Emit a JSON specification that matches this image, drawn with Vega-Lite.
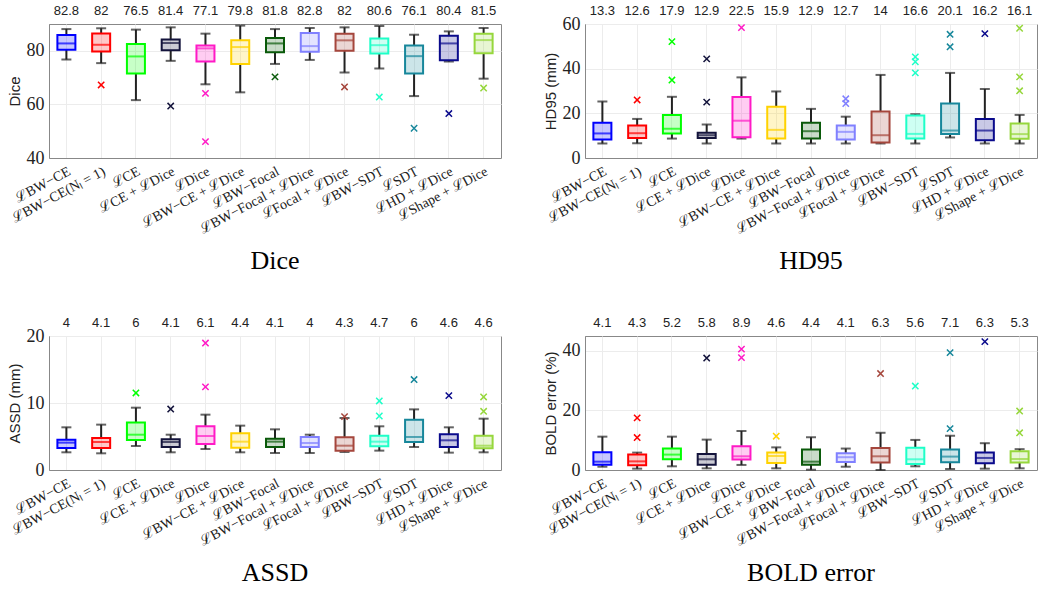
{
  "$schema": "https://vega.github.io/schema/vega-lite/v6.json",
  "background": "white",
  "padding": {"left": 6, "top": 4, "right": 5, "bottom": 5},
  "datasets": {
    "stats": [
      {"metric": "Dice", "method": "ℒBW−CE", "lo": 76.75, "q1": 80.4, "med": 82.75, "q3": 85.9, "hi": 88.1, "mean": 82.8},
      {"metric": "Dice", "method": "ℒBW−CE(Nₗ = 1)", "lo": 75.4, "q1": 79.75, "med": 82.25, "q3": 86.5, "hi": 88.4, "mean": 82},
      {"metric": "Dice", "method": "ℒCE", "lo": 61.6, "q1": 71.5, "med": 77.9, "q3": 82.5, "hi": 87.9, "mean": 76.5},
      {"metric": "Dice", "method": "ℒCE + ℒDice", "lo": 76.25, "q1": 80.25, "med": 82.9, "q3": 84.25, "hi": 88.75, "mean": 81.4},
      {"metric": "Dice", "method": "ℒDice", "lo": 67.5, "q1": 76, "med": 80.9, "q3": 82, "hi": 86.4, "mean": 77.1},
      {"metric": "Dice", "method": "ℒBW−CE + ℒDice", "lo": 64.5, "q1": 75.1, "med": 81.4, "q3": 83.9, "hi": 89.4, "mean": 79.8},
      {"metric": "Dice", "method": "ℒBW−Focal", "lo": 75.1, "q1": 79.5, "med": 82.75, "q3": 84.75, "hi": 88.1, "mean": 81.8},
      {"metric": "Dice", "method": "ℒBW−Focal + ℒDice", "lo": 76.6, "q1": 79.6, "med": 81.75, "q3": 86.6, "hi": 88.5, "mean": 82.8},
      {"metric": "Dice", "method": "ℒFocal + ℒDice", "lo": 71.9, "q1": 80, "med": 83.9, "q3": 86.4, "hi": 88.75, "mean": 82},
      {"metric": "Dice", "method": "ℒBW−SDT", "lo": 73.4, "q1": 79, "med": 82.1, "q3": 84.6, "hi": 89.25, "mean": 80.6},
      {"metric": "Dice", "method": "ℒSDT", "lo": 63.1, "q1": 71.5, "med": 78, "q3": 82, "hi": 86, "mean": 76.1},
      {"metric": "Dice", "method": "ℒHD + ℒDice", "lo": 76, "q1": 76.5, "med": 82.75, "q3": 85.6, "hi": 87.25, "mean": 80.4},
      {"metric": "Dice", "method": "ℒShape + ℒDice", "lo": 69.6, "q1": 79.1, "med": 84, "q3": 86.4, "hi": 88.5, "mean": 81.5},

      {"metric": "HD95", "method": "ℒBW−CE", "lo": 6.5, "q1": 8.3, "med": 11, "q3": 15.8, "hi": 25.3, "mean": 13.3},
      {"metric": "HD95", "method": "ℒBW−CE(Nₗ = 1)", "lo": 6.6, "q1": 9, "med": 11.1, "q3": 14.5, "hi": 17.5, "mean": 12.6},
      {"metric": "HD95", "method": "ℒCE", "lo": 8.7, "q1": 11, "med": 13.1, "q3": 19.3, "hi": 27.4, "mean": 17.9},
      {"metric": "HD95", "method": "ℒCE + ℒDice", "lo": 6.5, "q1": 9, "med": 10.2, "q3": 11.3, "hi": 15, "mean": 12.9},
      {"metric": "HD95", "method": "ℒDice", "lo": 8.7, "q1": 9.3, "med": 16.7, "q3": 27.3, "hi": 36.1, "mean": 22.5},
      {"metric": "HD95", "method": "ℒBW−CE + ℒDice", "lo": 6.5, "q1": 8.7, "med": 12.6, "q3": 22.9, "hi": 29.8, "mean": 15.9},
      {"metric": "HD95", "method": "ℒBW−Focal", "lo": 6.5, "q1": 8.7, "med": 12, "q3": 15.8, "hi": 22, "mean": 12.9},
      {"metric": "HD95", "method": "ℒBW−Focal + ℒDice", "lo": 6.5, "q1": 8.3, "med": 11.7, "q3": 14.5, "hi": 18.5, "mean": 12.7},
      {"metric": "HD95", "method": "ℒFocal + ℒDice", "lo": 6.5, "q1": 6.9, "med": 10.2, "q3": 20.8, "hi": 37.2, "mean": 14},
      {"metric": "HD95", "method": "ℒBW−SDT", "lo": 6.5, "q1": 8.7, "med": 10.8, "q3": 19, "hi": 19.6, "mean": 16.6},
      {"metric": "HD95", "method": "ℒSDT", "lo": 9.2, "q1": 10.7, "med": 12.3, "q3": 24.4, "hi": 38.1, "mean": 20.1},
      {"metric": "HD95", "method": "ℒHD + ℒDice", "lo": 6.5, "q1": 8, "med": 12.3, "q3": 17.5, "hi": 30.9, "mean": 16.2},
      {"metric": "HD95", "method": "ℒShape + ℒDice", "lo": 6.5, "q1": 8.6, "med": 10.7, "q3": 15.4, "hi": 19.3, "mean": 16.1},

      {"metric": "ASSD", "method": "ℒBW−CE", "lo": 2.64, "q1": 3.28, "med": 4.08, "q3": 4.53, "hi": 6.37, "mean": 4},
      {"metric": "ASSD", "method": "ℒBW−CE(Nₗ = 1)", "lo": 2.49, "q1": 3.28, "med": 4.18, "q3": 4.78, "hi": 6.77, "mean": 4.1},
      {"metric": "ASSD", "method": "ℒCE", "lo": 3.58, "q1": 4.48, "med": 5.27, "q3": 7.1, "hi": 9.3, "mean": 6},
      {"metric": "ASSD", "method": "ℒCE + ℒDice", "lo": 2.64, "q1": 3.43, "med": 4.18, "q3": 4.58, "hi": 5.27, "mean": 4.1},
      {"metric": "ASSD", "method": "ℒDice", "lo": 3.13, "q1": 3.88, "med": 5.07, "q3": 6.52, "hi": 8.26, "mean": 6.1},
      {"metric": "ASSD", "method": "ℒBW−CE + ℒDice", "lo": 2.64, "q1": 3.33, "med": 4.23, "q3": 5.47, "hi": 6.62, "mean": 4.4},
      {"metric": "ASSD", "method": "ℒBW−Focal", "lo": 2.54, "q1": 3.43, "med": 4.23, "q3": 4.68, "hi": 6.07, "mean": 4.1},
      {"metric": "ASSD", "method": "ℒBW−Focal + ℒDice", "lo": 2.54, "q1": 3.43, "med": 4.03, "q3": 4.93, "hi": 5.27, "mean": 4},
      {"metric": "ASSD", "method": "ℒFocal + ℒDice", "lo": 2.69, "q1": 2.89, "med": 3.63, "q3": 4.88, "hi": 7.76, "mean": 4.3},
      {"metric": "ASSD", "method": "ℒBW−SDT", "lo": 2.89, "q1": 3.53, "med": 4.23, "q3": 5.12, "hi": 6.52, "mean": 4.7},
      {"metric": "ASSD", "method": "ℒSDT", "lo": 3.43, "q1": 4.18, "med": 4.93, "q3": 7.51, "hi": 9.05, "mean": 6},
      {"metric": "ASSD", "method": "ℒHD + ℒDice", "lo": 2.59, "q1": 3.43, "med": 4.43, "q3": 5.32, "hi": 6.37, "mean": 4.6},
      {"metric": "ASSD", "method": "ℒShape + ℒDice", "lo": 2.64, "q1": 3.23, "med": 3.63, "q3": 5.12, "hi": 7.66, "mean": 4.6},

      {"metric": "BOLD", "method": "ℒBW−CE", "lo": 1.1, "q1": 1.8, "med": 2.8, "q3": 5.96, "hi": 11.2, "mean": 4.1},
      {"metric": "BOLD", "method": "ℒBW−CE(Nₗ = 1)", "lo": 0.45, "q1": 1.57, "med": 2.9, "q3": 5.17, "hi": 5.84, "mean": 4.3},
      {"metric": "BOLD", "method": "ℒCE", "lo": 1.24, "q1": 3.6, "med": 5.17, "q3": 7.2, "hi": 11.2, "mean": 5.2},
      {"metric": "BOLD", "method": "ℒCE + ℒDice", "lo": 0.56, "q1": 1.8, "med": 3.6, "q3": 5.4, "hi": 10.2, "mean": 5.8},
      {"metric": "BOLD", "method": "ℒDice", "lo": 1.7, "q1": 3.5, "med": 4.6, "q3": 8, "hi": 13.1, "mean": 8.9},
      {"metric": "BOLD", "method": "ℒBW−CE + ℒDice", "lo": 0.56, "q1": 2.36, "med": 4.7, "q3": 5.84, "hi": 7.6, "mean": 4.6},
      {"metric": "BOLD", "method": "ℒBW−Focal", "lo": 0.1, "q1": 1.8, "med": 2.8, "q3": 6.85, "hi": 11, "mean": 4.4},
      {"metric": "BOLD", "method": "ℒBW−Focal + ℒDice", "lo": 1.1, "q1": 2.7, "med": 4.3, "q3": 5.6, "hi": 7.2, "mean": 4.1},
      {"metric": "BOLD", "method": "ℒFocal + ℒDice", "lo": 0, "q1": 2.5, "med": 4.6, "q3": 7.4, "hi": 12.5, "mean": 6.3},
      {"metric": "BOLD", "method": "ℒBW−SDT", "lo": 1.24, "q1": 2, "med": 3.6, "q3": 7.5, "hi": 10.1, "mean": 5.6},
      {"metric": "BOLD", "method": "ℒSDT", "lo": 0.34, "q1": 2.6, "med": 4.5, "q3": 6.85, "hi": 11.5, "mean": 7.1},
      {"metric": "BOLD", "method": "ℒHD + ℒDice", "lo": 0.45, "q1": 2.25, "med": 4.05, "q3": 5.84, "hi": 9, "mean": 6.3},
      {"metric": "BOLD", "method": "ℒShape + ℒDice", "lo": 0.56, "q1": 2.5, "med": 3.7, "q3": 6.3, "hi": 7, "mean": 5.3}
    ],
    "outliers": [
      {"metric": "Dice", "method": "ℒBW−CE(Nₗ = 1)", "value": 67.25},
      {"metric": "Dice", "method": "ℒCE + ℒDice", "value": 59.4},
      {"metric": "Dice", "method": "ℒDice", "value": 64.1},
      {"metric": "Dice", "method": "ℒDice", "value": 46.1},
      {"metric": "Dice", "method": "ℒBW−Focal", "value": 70.25},
      {"metric": "Dice", "method": "ℒFocal + ℒDice", "value": 66.5},
      {"metric": "Dice", "method": "ℒBW−SDT", "value": 62.75},
      {"metric": "Dice", "method": "ℒSDT", "value": 51.1},
      {"metric": "Dice", "method": "ℒHD + ℒDice", "value": 56.6},
      {"metric": "Dice", "method": "ℒShape + ℒDice", "value": 66.1},

      {"metric": "HD95", "method": "ℒBW−CE(Nₗ = 1)", "value": 26},
      {"metric": "HD95", "method": "ℒCE", "value": 34.9},
      {"metric": "HD95", "method": "ℒCE", "value": 52.1},
      {"metric": "HD95", "method": "ℒCE + ℒDice", "value": 25},
      {"metric": "HD95", "method": "ℒCE + ℒDice", "value": 44.4},
      {"metric": "HD95", "method": "ℒDice", "value": 58.4},
      {"metric": "HD95", "method": "ℒBW−Focal + ℒDice", "value": 24.4},
      {"metric": "HD95", "method": "ℒBW−Focal + ℒDice", "value": 26.5},
      {"metric": "HD95", "method": "ℒBW−SDT", "value": 38.1},
      {"metric": "HD95", "method": "ℒBW−SDT", "value": 43.1},
      {"metric": "HD95", "method": "ℒBW−SDT", "value": 45.3},
      {"metric": "HD95", "method": "ℒSDT", "value": 49.8},
      {"metric": "HD95", "method": "ℒSDT", "value": 55.4},
      {"metric": "HD95", "method": "ℒHD + ℒDice", "value": 55.7},
      {"metric": "HD95", "method": "ℒShape + ℒDice", "value": 30.1},
      {"metric": "HD95", "method": "ℒShape + ℒDice", "value": 36.3},
      {"metric": "HD95", "method": "ℒShape + ℒDice", "value": 58.1},

      {"metric": "ASSD", "method": "ℒCE", "value": 11.5},
      {"metric": "ASSD", "method": "ℒCE + ℒDice", "value": 9.1},
      {"metric": "ASSD", "method": "ℒDice", "value": 12.4},
      {"metric": "ASSD", "method": "ℒDice", "value": 18.95},
      {"metric": "ASSD", "method": "ℒFocal + ℒDice", "value": 7.96},
      {"metric": "ASSD", "method": "ℒBW−SDT", "value": 8.06},
      {"metric": "ASSD", "method": "ℒBW−SDT", "value": 10.3},
      {"metric": "ASSD", "method": "ℒSDT", "value": 13.5},
      {"metric": "ASSD", "method": "ℒHD + ℒDice", "value": 11.1},
      {"metric": "ASSD", "method": "ℒShape + ℒDice", "value": 8.76},
      {"metric": "ASSD", "method": "ℒShape + ℒDice", "value": 10.9},

      {"metric": "BOLD", "method": "ℒBW−CE(Nₗ = 1)", "value": 10.9},
      {"metric": "BOLD", "method": "ℒBW−CE(Nₗ = 1)", "value": 17.5},
      {"metric": "BOLD", "method": "ℒCE + ℒDice", "value": 37.6},
      {"metric": "BOLD", "method": "ℒDice", "value": 37.75},
      {"metric": "BOLD", "method": "ℒDice", "value": 40.6},
      {"metric": "BOLD", "method": "ℒBW−CE + ℒDice", "value": 11.35},
      {"metric": "BOLD", "method": "ℒFocal + ℒDice", "value": 32.4},
      {"metric": "BOLD", "method": "ℒBW−SDT", "value": 28.2},
      {"metric": "BOLD", "method": "ℒSDT", "value": 13.9},
      {"metric": "BOLD", "method": "ℒSDT", "value": 39.4},
      {"metric": "BOLD", "method": "ℒHD + ℒDice", "value": 43.1},
      {"metric": "BOLD", "method": "ℒShape + ℒDice", "value": 12.5},
      {"metric": "BOLD", "method": "ℒShape + ℒDice", "value": 19.8}
    ]
  },
  "columns": 2,
  "spacing": {"column": 40, "row": 41},
  "concat": [
    {
      "width": 452, "height": 134,
      "title": {"text": "Dice", "orient": "bottom", "font": "Liberation Serif", "fontSize": 26, "fontWeight": "normal", "color": "#000", "offset": 12},
      "encoding": {"x": {"field": "method", "type": "nominal", "title": null,
        "scale": {"domain": ["ℒBW−CE", "ℒBW−CE(Nₗ = 1)", "ℒCE", "ℒCE + ℒDice", "ℒDice", "ℒBW−CE + ℒDice", "ℒBW−Focal", "ℒBW−Focal + ℒDice", "ℒFocal + ℒDice", "ℒBW−SDT", "ℒSDT", "ℒHD + ℒDice", "ℒShape + ℒDice"]},
        "axis": {"labelAngle": -28, "labelAlign": "right", "labelBaseline": "top", "labelFont": "Liberation Serif", "labelFontSize": 14, "labelColor": "#222", "ticks": false, "labelPadding": 6, "grid": true, "gridColor": "#ececec", "domainColor": "#888"}},
        "color": {"field": "method", "type": "nominal", "legend": null, "scale": {"domain": ["ℒBW−CE", "ℒBW−CE(Nₗ = 1)", "ℒCE", "ℒCE + ℒDice", "ℒDice", "ℒBW−CE + ℒDice", "ℒBW−Focal", "ℒBW−Focal + ℒDice", "ℒFocal + ℒDice", "ℒBW−SDT", "ℒSDT", "ℒHD + ℒDice", "ℒShape + ℒDice"], "range": ["#0000ff", "#ff0000", "#00ff00", "#14143c", "#ff1ac6", "#ffd200", "#0a5a0a", "#8080ff", "#a5463c", "#1effc8", "#17879b", "#0a0a8c", "#96d73c"]}}},
      "layer": [
        {"data": {"name": "stats"}, "transform": [{"filter": "datum.metric === 'Dice'"}],
         "layer": [
          {"mark": {"type": "rule", "strokeWidth": 2}, "encoding": {"color": {"value": "#222"}, "y": {"field": "lo", "type": "quantitative", "scale": {"domain": [40, 90], "nice": false, "zero": false}, "axis": {"values": [40, 60, 80], "title": "Dice", "titleFont": "Liberation Sans", "titleFontSize": 15, "titleFontWeight": "normal", "titleColor": "#222", "labelFont": "Liberation Serif", "labelFontSize": 18, "labelColor": "#222", "ticks": false, "labelPadding": 5, "grid": true, "gridColor": "#ececec", "domainColor": "#888"}}, "y2": {"field": "q1"}}},
          {"mark": {"type": "rule", "strokeWidth": 2}, "encoding": {"color": {"value": "#222"}, "y": {"field": "q3", "type": "quantitative"}, "y2": {"field": "hi"}}},
          {"mark": {"type": "tick", "thickness": 2, "size": 10}, "encoding": {"color": {"value": "#222"}, "y": {"field": "lo", "type": "quantitative"}}},
          {"mark": {"type": "tick", "thickness": 2, "size": 10}, "encoding": {"color": {"value": "#222"}, "y": {"field": "hi", "type": "quantitative"}}},
          {"mark": {"type": "bar", "size": 18, "strokeWidth": 2, "fillOpacity": 0.22}, "encoding": {"y": {"field": "q1", "type": "quantitative"}, "y2": {"field": "q3"}, "stroke": {"field": "method", "type": "nominal", "legend": null, "scale": {"domain": ["ℒBW−CE", "ℒBW−CE(Nₗ = 1)", "ℒCE", "ℒCE + ℒDice", "ℒDice", "ℒBW−CE + ℒDice", "ℒBW−Focal", "ℒBW−Focal + ℒDice", "ℒFocal + ℒDice", "ℒBW−SDT", "ℒSDT", "ℒHD + ℒDice", "ℒShape + ℒDice"], "range": ["#0000ff", "#ff0000", "#00ff00", "#14143c", "#ff1ac6", "#ffd200", "#0a5a0a", "#8080ff", "#a5463c", "#1effc8", "#17879b", "#0a0a8c", "#96d73c"]}}}},
          {"mark": {"type": "tick", "thickness": 2, "size": 18}, "encoding": {"y": {"field": "med", "type": "quantitative"}}},
          {"mark": {"type": "text", "font": "Liberation Sans", "fontSize": 13, "baseline": "bottom", "dy": -6}, "encoding": {"color": {"value": "#222"}, "y": {"datum": 90, "type": "quantitative"}, "text": {"field": "mean", "type": "quantitative"}}}
         ]},
        {"data": {"name": "outliers"}, "transform": [{"filter": "datum.metric === 'Dice'"}],
         "mark": {"type": "point", "shape": "M-1,-1L1,1M-1,1L1,-1", "filled": false, "size": 40, "strokeWidth": 1.5, "opacity": 1},
         "encoding": {"y": {"field": "value", "type": "quantitative"}}}
      ]
    },
    {
      "width": 452, "height": 134,
      "title": {"text": "HD95", "orient": "bottom", "font": "Liberation Serif", "fontSize": 26, "fontWeight": "normal", "color": "#000", "offset": 12},
      "encoding": {"x": {"field": "method", "type": "nominal", "title": null,
        "scale": {"domain": ["ℒBW−CE", "ℒBW−CE(Nₗ = 1)", "ℒCE", "ℒCE + ℒDice", "ℒDice", "ℒBW−CE + ℒDice", "ℒBW−Focal", "ℒBW−Focal + ℒDice", "ℒFocal + ℒDice", "ℒBW−SDT", "ℒSDT", "ℒHD + ℒDice", "ℒShape + ℒDice"]},
        "axis": {"labelAngle": -28, "labelAlign": "right", "labelBaseline": "top", "labelFont": "Liberation Serif", "labelFontSize": 14, "labelColor": "#222", "ticks": false, "labelPadding": 6, "grid": true, "gridColor": "#ececec", "domainColor": "#888"}},
        "color": {"field": "method", "type": "nominal", "legend": null, "scale": {"domain": ["ℒBW−CE", "ℒBW−CE(Nₗ = 1)", "ℒCE", "ℒCE + ℒDice", "ℒDice", "ℒBW−CE + ℒDice", "ℒBW−Focal", "ℒBW−Focal + ℒDice", "ℒFocal + ℒDice", "ℒBW−SDT", "ℒSDT", "ℒHD + ℒDice", "ℒShape + ℒDice"], "range": ["#0000ff", "#ff0000", "#00ff00", "#14143c", "#ff1ac6", "#ffd200", "#0a5a0a", "#8080ff", "#a5463c", "#1effc8", "#17879b", "#0a0a8c", "#96d73c"]}}},
      "layer": [
        {"data": {"name": "stats"}, "transform": [{"filter": "datum.metric === 'HD95'"}],
         "layer": [
          {"mark": {"type": "rule", "strokeWidth": 2}, "encoding": {"color": {"value": "#222"}, "y": {"field": "lo", "type": "quantitative", "scale": {"domain": [0, 60], "nice": false}, "axis": {"values": [0, 20, 40, 60], "title": "HD95 (mm)", "titleFont": "Liberation Sans", "titleFontSize": 15, "titleFontWeight": "normal", "titleColor": "#222", "labelFont": "Liberation Serif", "labelFontSize": 18, "labelColor": "#222", "ticks": false, "labelPadding": 5, "grid": true, "gridColor": "#ececec", "domainColor": "#888"}}, "y2": {"field": "q1"}}},
          {"mark": {"type": "rule", "strokeWidth": 2}, "encoding": {"color": {"value": "#222"}, "y": {"field": "q3", "type": "quantitative"}, "y2": {"field": "hi"}}},
          {"mark": {"type": "tick", "thickness": 2, "size": 10}, "encoding": {"color": {"value": "#222"}, "y": {"field": "lo", "type": "quantitative"}}},
          {"mark": {"type": "tick", "thickness": 2, "size": 10}, "encoding": {"color": {"value": "#222"}, "y": {"field": "hi", "type": "quantitative"}}},
          {"mark": {"type": "bar", "size": 18, "strokeWidth": 2, "fillOpacity": 0.22}, "encoding": {"y": {"field": "q1", "type": "quantitative"}, "y2": {"field": "q3"}, "stroke": {"field": "method", "type": "nominal", "legend": null, "scale": {"domain": ["ℒBW−CE", "ℒBW−CE(Nₗ = 1)", "ℒCE", "ℒCE + ℒDice", "ℒDice", "ℒBW−CE + ℒDice", "ℒBW−Focal", "ℒBW−Focal + ℒDice", "ℒFocal + ℒDice", "ℒBW−SDT", "ℒSDT", "ℒHD + ℒDice", "ℒShape + ℒDice"], "range": ["#0000ff", "#ff0000", "#00ff00", "#14143c", "#ff1ac6", "#ffd200", "#0a5a0a", "#8080ff", "#a5463c", "#1effc8", "#17879b", "#0a0a8c", "#96d73c"]}}}},
          {"mark": {"type": "tick", "thickness": 2, "size": 18}, "encoding": {"y": {"field": "med", "type": "quantitative"}}},
          {"mark": {"type": "text", "font": "Liberation Sans", "fontSize": 13, "baseline": "bottom", "dy": -6}, "encoding": {"color": {"value": "#222"}, "y": {"datum": 60, "type": "quantitative"}, "text": {"field": "mean", "type": "quantitative"}}}
         ]},
        {"data": {"name": "outliers"}, "transform": [{"filter": "datum.metric === 'HD95'"}],
         "mark": {"type": "point", "shape": "M-1,-1L1,1M-1,1L1,-1", "filled": false, "size": 40, "strokeWidth": 1.5, "opacity": 1},
         "encoding": {"y": {"field": "value", "type": "quantitative"}}}
      ]
    },
    {
      "width": 452, "height": 134,
      "title": {"text": "ASSD", "orient": "bottom", "font": "Liberation Serif", "fontSize": 26, "fontWeight": "normal", "color": "#000", "offset": 12},
      "encoding": {"x": {"field": "method", "type": "nominal", "title": null,
        "scale": {"domain": ["ℒBW−CE", "ℒBW−CE(Nₗ = 1)", "ℒCE", "ℒCE + ℒDice", "ℒDice", "ℒBW−CE + ℒDice", "ℒBW−Focal", "ℒBW−Focal + ℒDice", "ℒFocal + ℒDice", "ℒBW−SDT", "ℒSDT", "ℒHD + ℒDice", "ℒShape + ℒDice"]},
        "axis": {"labelAngle": -28, "labelAlign": "right", "labelBaseline": "top", "labelFont": "Liberation Serif", "labelFontSize": 14, "labelColor": "#222", "ticks": false, "labelPadding": 6, "grid": true, "gridColor": "#ececec", "domainColor": "#888"}},
        "color": {"field": "method", "type": "nominal", "legend": null, "scale": {"domain": ["ℒBW−CE", "ℒBW−CE(Nₗ = 1)", "ℒCE", "ℒCE + ℒDice", "ℒDice", "ℒBW−CE + ℒDice", "ℒBW−Focal", "ℒBW−Focal + ℒDice", "ℒFocal + ℒDice", "ℒBW−SDT", "ℒSDT", "ℒHD + ℒDice", "ℒShape + ℒDice"], "range": ["#0000ff", "#ff0000", "#00ff00", "#14143c", "#ff1ac6", "#ffd200", "#0a5a0a", "#8080ff", "#a5463c", "#1effc8", "#17879b", "#0a0a8c", "#96d73c"]}}},
      "layer": [
        {"data": {"name": "stats"}, "transform": [{"filter": "datum.metric === 'ASSD'"}],
         "layer": [
          {"mark": {"type": "rule", "strokeWidth": 2}, "encoding": {"color": {"value": "#222"}, "y": {"field": "lo", "type": "quantitative", "scale": {"domain": [0, 20], "nice": false}, "axis": {"values": [0, 10, 20], "title": "ASSD (mm)", "titleFont": "Liberation Sans", "titleFontSize": 15, "titleFontWeight": "normal", "titleColor": "#222", "labelFont": "Liberation Serif", "labelFontSize": 18, "labelColor": "#222", "ticks": false, "labelPadding": 5, "grid": true, "gridColor": "#ececec", "domainColor": "#888"}}, "y2": {"field": "q1"}}},
          {"mark": {"type": "rule", "strokeWidth": 2}, "encoding": {"color": {"value": "#222"}, "y": {"field": "q3", "type": "quantitative"}, "y2": {"field": "hi"}}},
          {"mark": {"type": "tick", "thickness": 2, "size": 10}, "encoding": {"color": {"value": "#222"}, "y": {"field": "lo", "type": "quantitative"}}},
          {"mark": {"type": "tick", "thickness": 2, "size": 10}, "encoding": {"color": {"value": "#222"}, "y": {"field": "hi", "type": "quantitative"}}},
          {"mark": {"type": "bar", "size": 18, "strokeWidth": 2, "fillOpacity": 0.22}, "encoding": {"y": {"field": "q1", "type": "quantitative"}, "y2": {"field": "q3"}, "stroke": {"field": "method", "type": "nominal", "legend": null, "scale": {"domain": ["ℒBW−CE", "ℒBW−CE(Nₗ = 1)", "ℒCE", "ℒCE + ℒDice", "ℒDice", "ℒBW−CE + ℒDice", "ℒBW−Focal", "ℒBW−Focal + ℒDice", "ℒFocal + ℒDice", "ℒBW−SDT", "ℒSDT", "ℒHD + ℒDice", "ℒShape + ℒDice"], "range": ["#0000ff", "#ff0000", "#00ff00", "#14143c", "#ff1ac6", "#ffd200", "#0a5a0a", "#8080ff", "#a5463c", "#1effc8", "#17879b", "#0a0a8c", "#96d73c"]}}}},
          {"mark": {"type": "tick", "thickness": 2, "size": 18}, "encoding": {"y": {"field": "med", "type": "quantitative"}}},
          {"mark": {"type": "text", "font": "Liberation Sans", "fontSize": 13, "baseline": "bottom", "dy": -6}, "encoding": {"color": {"value": "#222"}, "y": {"datum": 20, "type": "quantitative"}, "text": {"field": "mean", "type": "quantitative"}}}
         ]},
        {"data": {"name": "outliers"}, "transform": [{"filter": "datum.metric === 'ASSD'"}],
         "mark": {"type": "point", "shape": "M-1,-1L1,1M-1,1L1,-1", "filled": false, "size": 40, "strokeWidth": 1.5, "opacity": 1},
         "encoding": {"y": {"field": "value", "type": "quantitative"}}}
      ]
    },
    {
      "width": 452, "height": 134,
      "title": {"text": "BOLD error", "orient": "bottom", "font": "Liberation Serif", "fontSize": 26, "fontWeight": "normal", "color": "#000", "offset": 12},
      "encoding": {"x": {"field": "method", "type": "nominal", "title": null,
        "scale": {"domain": ["ℒBW−CE", "ℒBW−CE(Nₗ = 1)", "ℒCE", "ℒCE + ℒDice", "ℒDice", "ℒBW−CE + ℒDice", "ℒBW−Focal", "ℒBW−Focal + ℒDice", "ℒFocal + ℒDice", "ℒBW−SDT", "ℒSDT", "ℒHD + ℒDice", "ℒShape + ℒDice"]},
        "axis": {"labelAngle": -28, "labelAlign": "right", "labelBaseline": "top", "labelFont": "Liberation Serif", "labelFontSize": 14, "labelColor": "#222", "ticks": false, "labelPadding": 6, "grid": true, "gridColor": "#ececec", "domainColor": "#888"}},
        "color": {"field": "method", "type": "nominal", "legend": null, "scale": {"domain": ["ℒBW−CE", "ℒBW−CE(Nₗ = 1)", "ℒCE", "ℒCE + ℒDice", "ℒDice", "ℒBW−CE + ℒDice", "ℒBW−Focal", "ℒBW−Focal + ℒDice", "ℒFocal + ℒDice", "ℒBW−SDT", "ℒSDT", "ℒHD + ℒDice", "ℒShape + ℒDice"], "range": ["#0000ff", "#ff0000", "#00ff00", "#14143c", "#ff1ac6", "#ffd200", "#0a5a0a", "#8080ff", "#a5463c", "#1effc8", "#17879b", "#0a0a8c", "#96d73c"]}}},
      "layer": [
        {"data": {"name": "stats"}, "transform": [{"filter": "datum.metric === 'BOLD'"}],
         "layer": [
          {"mark": {"type": "rule", "strokeWidth": 2}, "encoding": {"color": {"value": "#222"}, "y": {"field": "lo", "type": "quantitative", "scale": {"domain": [0, 45], "nice": false}, "axis": {"values": [0, 20, 40], "title": "BOLD error (%)", "titleFont": "Liberation Sans", "titleFontSize": 15, "titleFontWeight": "normal", "titleColor": "#222", "labelFont": "Liberation Serif", "labelFontSize": 18, "labelColor": "#222", "ticks": false, "labelPadding": 5, "grid": true, "gridColor": "#ececec", "domainColor": "#888"}}, "y2": {"field": "q1"}}},
          {"mark": {"type": "rule", "strokeWidth": 2}, "encoding": {"color": {"value": "#222"}, "y": {"field": "q3", "type": "quantitative"}, "y2": {"field": "hi"}}},
          {"mark": {"type": "tick", "thickness": 2, "size": 10}, "encoding": {"color": {"value": "#222"}, "y": {"field": "lo", "type": "quantitative"}}},
          {"mark": {"type": "tick", "thickness": 2, "size": 10}, "encoding": {"color": {"value": "#222"}, "y": {"field": "hi", "type": "quantitative"}}},
          {"mark": {"type": "bar", "size": 18, "strokeWidth": 2, "fillOpacity": 0.22}, "encoding": {"y": {"field": "q1", "type": "quantitative"}, "y2": {"field": "q3"}, "stroke": {"field": "method", "type": "nominal", "legend": null, "scale": {"domain": ["ℒBW−CE", "ℒBW−CE(Nₗ = 1)", "ℒCE", "ℒCE + ℒDice", "ℒDice", "ℒBW−CE + ℒDice", "ℒBW−Focal", "ℒBW−Focal + ℒDice", "ℒFocal + ℒDice", "ℒBW−SDT", "ℒSDT", "ℒHD + ℒDice", "ℒShape + ℒDice"], "range": ["#0000ff", "#ff0000", "#00ff00", "#14143c", "#ff1ac6", "#ffd200", "#0a5a0a", "#8080ff", "#a5463c", "#1effc8", "#17879b", "#0a0a8c", "#96d73c"]}}}},
          {"mark": {"type": "tick", "thickness": 2, "size": 18}, "encoding": {"y": {"field": "med", "type": "quantitative"}}},
          {"mark": {"type": "text", "font": "Liberation Sans", "fontSize": 13, "baseline": "bottom", "dy": -6}, "encoding": {"color": {"value": "#222"}, "y": {"datum": 45, "type": "quantitative"}, "text": {"field": "mean", "type": "quantitative"}}}
         ]},
        {"data": {"name": "outliers"}, "transform": [{"filter": "datum.metric === 'BOLD'"}],
         "mark": {"type": "point", "shape": "M-1,-1L1,1M-1,1L1,-1", "filled": false, "size": 40, "strokeWidth": 1.5, "opacity": 1},
         "encoding": {"y": {"field": "value", "type": "quantitative"}}}
      ]
    }
  ],
  "resolve": {"scale": {"y": "independent", "x": "independent"}},
  "config": {
    "view": {"stroke": "#888", "strokeWidth": 1}
  }
}
